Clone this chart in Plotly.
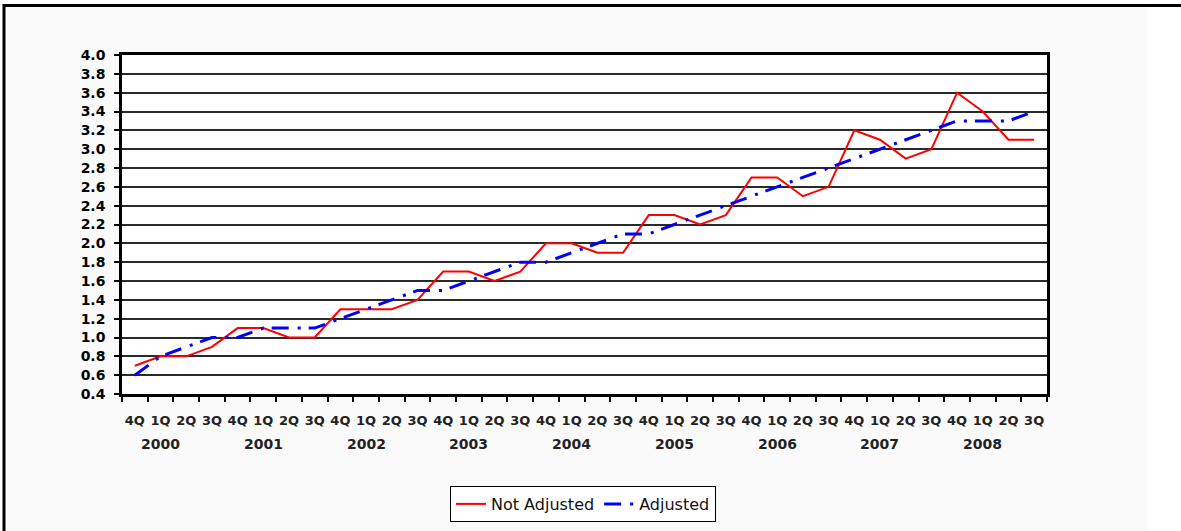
import plotly.graph_objects as go

# ---------------- data ----------------
years = ["2000", "2001", "2002", "2003", "2004", "2005", "2006", "2007", "2008"]
quarters = ["4Q", "1Q", "2Q", "3Q"]
categories = [f"{q} {y}" for y in years for q in quarters]
tick_labels = [q for y in years for q in quarters]

not_adjusted = [0.7, 0.8, 0.8, 0.9, 1.1, 1.1, 1.0, 1.0, 1.3, 1.3, 1.3, 1.4,
                1.7, 1.7, 1.6, 1.7, 2.0, 2.0, 1.9, 1.9, 2.3, 2.3, 2.2, 2.3,
                2.7, 2.7, 2.5, 2.6, 3.2, 3.1, 2.9, 3.0, 3.6, 3.4, 3.1, 3.1]
adjusted = [0.6, 0.8, 0.9, 1.0, 1.0, 1.1, 1.1, 1.1, 1.2, 1.3, 1.4, 1.5,
            1.5, 1.6, 1.7, 1.8, 1.8, 1.9, 2.0, 2.1, 2.1, 2.2, 2.3, 2.4,
            2.5, 2.6, 2.7, 2.8, 2.9, 3.0, 3.1, 3.2, 3.3, 3.3, 3.3, 3.4]

# ---------------- layout geometry ----------------
W, H = 1181, 531
L, R, T, B = 122, 1047, 55, 394  # plot area in pixels


def px_x(p):
    return (p - L) / (R - L)


def px_y(p):
    return (B - p) / (B - T)


FONT = "DejaVu Sans"

fig = go.Figure()
fig.add_trace(go.Scatter(
    x=categories, y=not_adjusted, mode="lines", name="Not Adjusted",
    line=dict(color="#ff0000", width=2),
))
fig.add_trace(go.Scatter(
    x=categories, y=adjusted, mode="lines", name="Adjusted",
    line=dict(color="#0000ff", width=3, dash="17px,9px,3px,8px"),
))

shapes = [
    # white strips outside the grey page frame
    dict(type="rect", xref="paper", yref="paper", x0=px_x(1147), x1=px_x(W + 5),
         y0=px_y(H + 5), y1=px_y(-5), fillcolor="white", line=dict(width=0), layer="below"),
    dict(type="rect", xref="paper", yref="paper", x0=px_x(-5), x1=px_x(W + 5),
         y0=px_y(5), y1=px_y(-5), fillcolor="white", line=dict(width=0), layer="below"),
    dict(type="rect", xref="paper", yref="paper", x0=px_x(-5), x1=px_x(3),
         y0=px_y(H + 5), y1=px_y(-5), fillcolor="white", line=dict(width=0), layer="below"),
    # frame lines
    dict(type="line", xref="paper", yref="paper", x0=px_x(3), x1=px_x(W + 5),
         y0=px_y(5.5), y1=px_y(5.5), line=dict(color="black", width=3)),
    dict(type="line", xref="paper", yref="paper", x0=px_x(4), x1=px_x(4),
         y0=px_y(4), y1=px_y(H + 5), line=dict(color="black", width=3)),
]

annotations = []
for k, y in enumerate(years):
    annotations.append(dict(
        x=4 * k + 1, xref="x", y=px_y(444), yref="paper",
        text=f"<b>{y}</b>", showarrow=False, xanchor="center", yanchor="middle",
        font=dict(family=FONT, size=14, color="#222222"),
    ))

fig.update_layout(
    width=W, height=H,
    margin=dict(l=L, r=W - R, t=T, b=H - B, autoexpand=False),
    paper_bgcolor="#fafafa",
    plot_bgcolor="white",
    font=dict(family=FONT, color="black"),
    shapes=shapes,
    annotations=annotations,
    showlegend=True,
    legend=dict(
        orientation="h", x=px_x(583), y=px_y(504), xanchor="center", yanchor="middle",
        bgcolor="white", bordercolor="black", borderwidth=1,
        font=dict(family=FONT, size=16, color="#111111"),
        itemwidth=30, tracegroupgap=0,
    ),
    xaxis=dict(
        type="category", categoryorder="array", categoryarray=categories,
        range=[-0.5, len(categories) - 0.5],
        tickmode="array", tickvals=categories,
        ticktext=[f"<b>{t}</b>" for t in tick_labels],
        tickangle=0,
        tickson="boundaries", ticks="outside", ticklen=5, tickwidth=2, tickcolor="black",
        ticklabelstandoff=13,
        tickfont=dict(family=FONT, size=13, color="#222222"),
        showgrid=False, zeroline=False,
        showline=True, linecolor="black", linewidth=2.5, mirror=True,
    ),
    yaxis=dict(
        range=[0.4, 4.0], tickmode="linear", tick0=0.4, dtick=0.2, tickformat=".1f",
        ticks="outside", ticklen=5, tickwidth=2, tickcolor="black",
        ticklabelstandoff=6,
        tickfont=dict(family=FONT, size=14, color="black", weight="bold"),
        showgrid=True, gridcolor="#2a2a2a", gridwidth=1.5, zeroline=False,
        showline=True, linecolor="black", linewidth=2.5, mirror=True,
    ),
)

fig.write_html(
    "out.html",
    config={"displayModeBar": False},
    post_script="document.body.style.margin='0';document.body.style.overflow='hidden';",
)
